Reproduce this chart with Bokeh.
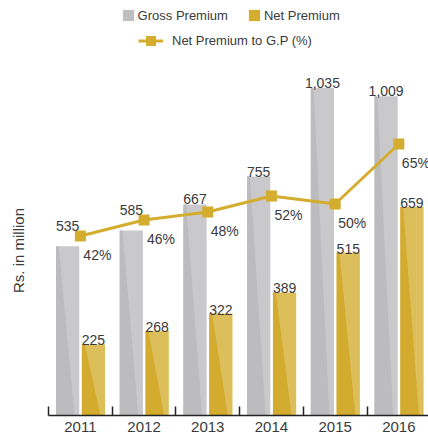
import math
from bokeh.plotting import figure
from bokeh.models import (Range1d, FixedTicker, Legend, LegendItem, Label)
from bokeh.core.properties import value
from bokeh.embed import file_html
from bokeh.resources import INLINE

# ---- data ----
years = ["2011", "2012", "2013", "2014", "2015", "2016"]
gross_premium = [535, 585, 667, 755, 1035, 1009]
net_premium = [225, 268, 322, 389, 515, 659]
net_to_gp_pct = [42, 46, 48, 52, 50, 65]

# ---- styling ----
FONT = "Liberation Sans"
TXT = "#3a3a3a"
GREY_L, GREY_D = "#c9c9cb", "#bcbcbe"
GOLD_L, GOLD_D = "#dcbe5a", "#d3ab2e"
GOLD = "#d4ad2e"

W, H = 428, 442
FRAME_BOTTOM = 415            # px from top of figure
BB = H - FRAME_BOTTOM
AX_LEFT = 48                  # px where the category axis starts
CAT_PX = 63.7
Y_PX = 0.3164                 # px per million
PCT_PX = 4.0                  # px per percent
PCT_ZERO = 11.5               # px above frame bottom for 0%

PCT_MIN = -PCT_ZERO / PCT_PX
PCT_MAX = PCT_MIN + FRAME_BOTTOM / PCT_PX
X0 = -0.5 - AX_LEFT / CAT_PX
X1 = -0.5 + (W - AX_LEFT) / CAT_PX

BAR_W = 0.365
G_OFF, N_OFF = -0.2, 0.206

p = figure(width=W, height=H, output_backend="svg", toolbar_location=None,
           x_range=Range1d(X0, X1), y_range=Range1d(0, FRAME_BOTTOM / Y_PX),
           y_axis_location=None,
           min_border_left=0, min_border_right=0, min_border_top=0,
           min_border_bottom=BB)
p.extra_y_ranges = {"pct": Range1d(PCT_MIN, PCT_MAX)}
p.grid.visible = False
p.outline_line_color = None

idx = list(range(len(years)))

# bars
gx = [i + G_OFF for i in idx]
nx = [i + N_OFF for i in idx]
p.vbar(x=gx, top=gross_premium, width=BAR_W, bottom=0,
       fill_color=GREY_L, line_color=None)
p.vbar(x=nx, top=net_premium, width=BAR_W, bottom=0,
       fill_color=GOLD_L, line_color=None)


def shade(xc, tops):
    xs, ys = [], []
    for x, t in zip(xc, tops):
        l = x - BAR_W / 2
        xs.append([l, l + 0.12 * BAR_W, l + 0.8 * BAR_W, l])
        ys.append([t, t, 0, 0])
    return xs, ys


sx, sy = shade(gx, gross_premium)
p.patches(xs=sx, ys=sy, fill_color=GREY_D, line_color=None)
sx, sy = shade(nx, net_premium)
p.patches(xs=sx, ys=sy, fill_color=GOLD_D, line_color=None)

# line
r_line = p.line(x=idx, y=net_to_gp_pct, y_range_name="pct", line_color=GOLD,
                line_width=3)
r_mark = p.scatter(x=idx, y=net_to_gp_pct, y_range_name="pct", marker="square",
                   size=11, fill_color=GOLD, line_color=None)


def pct_to_y(v):
    return (v - PCT_MIN) * PCT_PX / Y_PX


# value labels
g_lab_y = [max(g, pct_to_y(q) + 5.5 / Y_PX)
           for g, q in zip(gross_premium, net_to_gp_pct)]
p.text(x=gx, y=g_lab_y, text=[f"{v:,}" for v in gross_premium],
       text_align="center", text_baseline="alphabetic", y_offset=-5,
       text_font=value(FONT), text_font_size="14px", text_color=TXT)
p.text(x=nx, y=net_premium, text=[f"{v:,}" for v in net_premium],
       text_align="center", text_baseline="alphabetic", y_offset=-4,
       text_font=value(FONT), text_font_size="14px", text_color=TXT)
p.text(x=idx, y=net_to_gp_pct, y_range_name="pct",
       text=[f"{v}%" for v in net_to_gp_pct],
       text_align="left", text_baseline="alphabetic", x_offset=3, y_offset=19,
       text_font=value(FONT), text_font_size="14px", text_color=TXT)

# x axis
ax = p.xaxis[0]
ax.bounds = (-0.5, X1)
ax.ticker = FixedTicker(ticks=idx, minor_ticks=[i - 0.5 for i in idx])
ax.major_label_overrides = {i: y for i, y in zip(idx, years)}
ax.major_tick_in = 0
ax.major_tick_out = 0
ax.minor_tick_in = 9
ax.minor_tick_out = 0
ax.minor_tick_line_color = "#222222"
ax.minor_tick_line_width = 1.5
ax.axis_line_color = "#222222"
ax.axis_line_width = 1.5
ax.major_label_standoff = 6
ax.major_label_text_font = FONT
ax.major_label_text_font_size = "15px"
ax.major_label_text_color = TXT

# y label
p.add_layout(Label(x=X0 + 17.5 / CAT_PX, y=(FRAME_BOTTOM - 250) / Y_PX,
                   angle=math.pi / 2,
                   text="Rs. in million", text_align="center",
                   text_baseline="middle", text_font=FONT,
                   text_font_size="15px", text_color=TXT))

# legend swatches (renderers kept off-screen, only used for the legend)
lg_g = p.vbar(x=[X0 - 5], top=[1], width=0.1, fill_color="#bfbfc1",
              line_color=None)
lg_n = p.vbar(x=[X0 - 5], top=[1], width=0.1, fill_color=GOLD,
              line_color=None)

leg1 = Legend(items=[LegendItem(label="Gross Premium", renderers=[lg_g]),
                     LegendItem(label="Net Premium", renderers=[lg_n])],
              orientation="horizontal", location=(120.6, FRAME_BOTTOM - 22.7),
              glyph_width=14, glyph_height=14, label_height=14,
              label_standoff=3, spacing=19, padding=0, margin=0,
              border_line_color=None, background_fill_alpha=0,
              label_text_font=FONT, label_text_font_size="13px",
              label_text_color=TXT, label_text_baseline="middle")
leg2 = Legend(items=[LegendItem(label="Net Premium to G.P (%)",
                                renderers=[r_line, r_mark])],
              orientation="horizontal", location=(138, FRAME_BOTTOM - 52.5),
              glyph_width=25, glyph_height=25, label_height=25,
              label_standoff=9, padding=0, margin=0,
              border_line_color=None, background_fill_alpha=0,
              label_text_font=FONT, label_text_font_size="13px",
              label_text_color=TXT, label_text_baseline="middle")
p.add_layout(leg1, "center")
p.add_layout(leg2, "center")

open("out.html", "w").write(file_html(p, INLINE))
